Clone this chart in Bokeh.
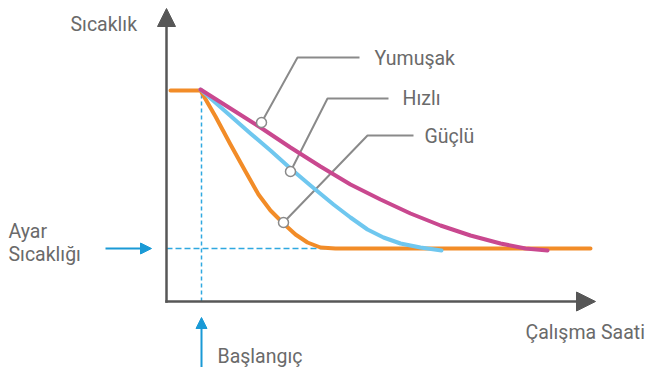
from bokeh.plotting import figure
from bokeh.models import Range1d, Arrow, NormalHead
from bokeh.core.properties import value
from bokeh.embed import file_html
from bokeh.resources import INLINE

# ---- data (schematic units: time -> right, temperature -> up) ----
guclu_t = [170, 200, 215, 230, 245, 258, 270, 283, 295, 307, 320, 335, 590]
guclu_temp = [277, 277, 251, 223, 196, 173, 157, 144, 133, 125, 120, 119, 119]

hizli_t = [200, 225, 250, 270, 290, 310, 333, 350, 367, 383, 400, 420, 441]
hizli_temp = [278, 256, 234, 217, 199, 182, 163, 150, 138, 130, 124, 120, 117]

yumusak_t = [200, 230, 260, 290, 320, 350, 380, 410, 440, 470, 500, 525, 547]
yumusak_temp = [278, 259, 240, 220, 201, 183, 168, 154, 142, 132, 124, 119, 117]

mode_labels = ["Yumuşak", "Hızlı", "Güçlü"]
anchor_t = [261, 290, 283]
anchor_temp = [245, 196, 145]
elbow_t = [297, 327, 367]
elbow_temp = [310, 269, 232]
end_t = [359, 388, 413]
label_t = [374, 402, 424]
label_temp = [309, 269, 231]

other_text = ["Sıcaklık", "Ayar", "Sıcaklığı", "Başlangıç", "Çalışma Saati"]
other_t = [70, 8, 8, 217, 525]
other_temp = [343, 136, 113, 11, 35]

start_time = 201
set_temp = 119
axis_origin_t = 166
axis_origin_temp = 66

TEXT = "#6a6a6a"
AXIS = "#575757"
LEADER = "#8a8a8a"
BLUE = "#1a9ad6"
DASH = "#2fa8e0"

p = figure(width=645, height=367, x_range=Range1d(0, 645), y_range=Range1d(0, 367),
           output_backend="svg", toolbar_location=None, min_border=0,
           x_axis_location=None, y_axis_location=None)
p.xgrid.visible = False
p.ygrid.visible = False
p.outline_line_color = None
p.background_fill_color = "white"
p.border_fill_color = "white"

# axes with arrow heads
p.add_layout(Arrow(end=NormalHead(size=18, fill_color=AXIS, line_color=AXIS, line_width=1),
                   x_start=axis_origin_t, y_start=axis_origin_temp - 1.2,
                   x_end=axis_origin_t, y_end=359,
                   line_color=AXIS, line_width=2.5))
p.add_layout(Arrow(end=NormalHead(size=19, fill_color=AXIS, line_color=AXIS, line_width=1),
                   x_start=axis_origin_t - 1.2, y_start=axis_origin_temp,
                   x_end=595, y_end=axis_origin_temp,
                   line_color=AXIS, line_width=2.5))

# dashed guide lines
p.line([start_time, start_time], [axis_origin_temp, guclu_temp[0]], line_color=DASH,
       line_width=1.5, line_dash="4 3")
p.line([axis_origin_t, 330], [set_temp, set_temp], line_color=DASH,
       line_width=1.5, line_dash="6 3")

# blue pointer arrows
p.add_layout(Arrow(end=NormalHead(size=11, fill_color=BLUE, line_color=BLUE, line_width=1),
                   x_start=105, y_start=set_temp, x_end=151, y_end=set_temp,
                   line_color=BLUE, line_width=2))
p.add_layout(Arrow(end=NormalHead(size=11, fill_color=BLUE, line_color=BLUE, line_width=1),
                   x_start=start_time, y_start=-2, x_end=start_time, y_end=50,
                   line_color=BLUE, line_width=2))

# leader lines
xs = [[a, b, c] for a, b, c in zip(anchor_t, elbow_t, end_t)]
ys = [[a, b, b] for a, b in zip(anchor_temp, elbow_temp)]
p.multi_line(xs, ys, line_color=LEADER, line_width=2)

# curves
p.line(guclu_t, guclu_temp, line_color="#f28c28", line_width=4, line_cap="round", line_join="round")
p.line(hizli_t, hizli_temp, line_color="#6fc7ef", line_width=4, line_cap="round", line_join="round")
p.line(yumusak_t, yumusak_temp, line_color="#c9488f", line_width=4, line_cap="round", line_join="round")

# anchor circles
p.scatter(anchor_t, anchor_temp, marker="circle", size=10, fill_color="white",
          line_color=LEADER, line_width=1.5)

# texts
font = value("Roboto")
fs = value("19.5px")
p.text(label_t, label_temp, text=mode_labels, text_font=font, text_font_size=fs,
       text_color=TEXT, text_baseline="alphabetic", text_align="left")
p.text(other_t, other_temp, text=other_text, text_font=font, text_font_size=fs,
       text_color=TEXT, text_baseline="alphabetic", text_align="left")

open("out.html", "w").write(file_html(p, INLINE))
